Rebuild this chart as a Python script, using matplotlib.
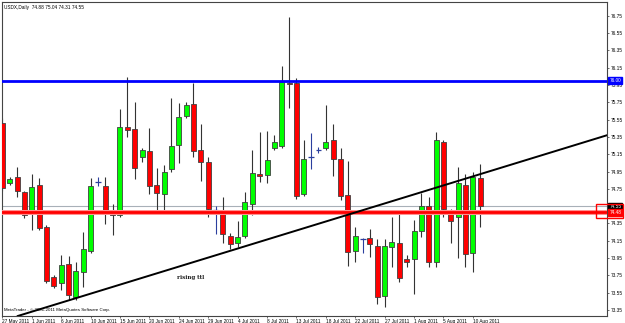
import matplotlib.pyplot as plt
from matplotlib.patches import Rectangle
from matplotlib.transforms import blended_transform_factory

plt.rcParams['font.family'] = ['Liberation Sans', 'DejaVu Sans']

# USDX daily candles, 27 May 2011 .. 11 Aug 2011 (Sunday bars included)
opens = [75.51, 74.82, 74.89, 74.71, 74.46, 74.79, 74.31, 73.73, 73.66, 73.88,
         73.50, 73.79, 74.03, 74.83, 74.78, 74.47, 74.45, 75.47, 75.44, 75.12,
         75.19, 74.79, 74.69, 74.98, 75.26, 75.59, 75.73, 75.20, 75.06, 74.50,
         74.48, 74.21, 74.12, 74.20, 74.58, 74.92, 74.91, 75.22, 75.24, 75.97,
         75.97, 74.69, 75.12, 75.20, 75.22, 75.31, 75.09, 74.68, 74.03, 74.17,
         74.18, 74.09, 73.51, 74.08, 74.12, 73.94, 73.94, 74.26, 74.55, 73.91,
         75.29, 74.47, 74.42, 74.80, 74.01, 74.88]
highs = [75.57, 74.89, 75.00, 74.73, 74.92, 74.87, 74.33, 73.75, 73.98, 73.97,
         73.91, 74.25, 74.87, 74.89, 74.89, 74.58, 75.67, 76.04, 75.75, 75.22,
         75.45, 74.99, 75.02, 75.80, 75.74, 75.75, 75.97, 75.50, 75.12, 74.55,
         74.65, 74.24, 74.38, 74.71, 75.20, 75.41, 75.42, 75.37, 76.17, 76.74,
         76.03, 75.31, 75.39, 75.23, 75.72, 75.50, 75.22, 75.07, 74.31, 74.18,
         74.28, 74.17, 74.17, 74.43, 74.49, 73.98, 74.39, 74.70, 74.65, 75.41,
         75.31, 74.52, 75.00, 74.92, 74.95, 75.04]
lows = [74.73, 74.79, 74.65, 74.41, 74.27, 74.27, 73.66, 73.60, 73.58, 73.46,
        73.46, 73.61, 74.01, 74.78, 74.34, 74.22, 74.42, 75.35, 74.86, 75.06,
        74.69, 74.48, 74.48, 74.94, 75.05, 75.57, 75.12, 74.84, 74.42, 74.23,
        74.12, 74.05, 74.08, 74.18, 74.45, 74.83, 74.82, 75.20, 75.22, 75.68,
        74.63, 74.67, 74.98, 75.16, 75.20, 74.90, 74.62, 73.86, 73.91, 74.01,
        73.96, 73.42, 73.38, 73.85, 73.67, 73.85, 73.54, 74.19, 73.85, 73.85,
        74.43, 74.12, 73.95, 73.85, 73.79, 74.31]
closes = [74.76, 74.86, 74.73, 74.45, 74.77, 74.30, 73.69, 73.63, 73.87, 73.52,
          73.80, 74.05, 74.78, 74.83, 74.47, 74.45, 75.46, 75.43, 74.99, 75.20,
          74.78, 74.70, 74.95, 75.24, 75.58, 75.72, 75.19, 75.06, 74.52, 74.50,
          74.23, 74.11, 74.19, 74.60, 74.93, 74.90, 75.08, 75.29, 75.98, 75.96,
          74.67, 75.10, 75.12, 75.20, 75.29, 75.10, 74.67, 74.02, 74.21, 74.17,
          74.11, 73.50, 74.09, 74.13, 73.72, 73.91, 74.26, 74.55, 73.90, 75.31,
          74.52, 74.38, 74.82, 74.00, 74.89, 74.55]

date_labels = ['27 May 2011', '1 Jun 2011', '6 Jun 2011', '10 Jun 2011', '15 Jun 2011',
               '20 Jun 2011', '24 Jun 2011', '29 Jun 2011', '4 Jul 2011', '8 Jul 2011',
               '13 Jul 2011', '18 Jul 2011', '22 Jul 2011', '27 Jul 2011', '1 Aug 2011',
               '5 Aug 2011', '10 Aug 2011']
price_ticks = [76.75, 76.55, 76.35, 76.15, 75.95, 75.75, 75.55, 75.35, 75.15, 74.95,
               74.75, 74.35, 74.15, 73.95, 73.75, 73.55, 73.35]

resistance = 76.00
support = 74.48
bid = 74.55
trend_a = (9, 73.46)
trend_b = (65, 74.92)

fig = plt.figure(figsize=(6.25, 3.23), dpi=100)
ax = fig.add_axes([2 / 625, 7 / 323, 605 / 625, 314 / 323])

for i, (o, h, l, c) in enumerate(zip(opens, highs, lows, closes)):
    if o == c:
        # doji -> drawn as a small blue cross
        ax.vlines(i, l, h, color='#2b3f9e', lw=0.8, zorder=3)
        ax.hlines(c, i - 0.4, i + 0.4, color='#2b3f9e', lw=0.9, zorder=3)
        continue
    ax.vlines(i, l, h, color='#333333', lw=0.8, zorder=2)
    col = '#00ff00' if c > o else '#ff0000'
    ax.bar(i, abs(c - o), bottom=min(o, c), width=0.68, color=col,
           edgecolor='#404040', linewidth=0.6, zorder=3)

ax.axhline(resistance, color='#0000ff', lw=2, zorder=4)
ax.axhline(support, color='#ff9090', lw=3.6, zorder=4)
ax.axhline(support, color='#ff0000', lw=2, zorder=4)
ax.axhline(bid, color='#a8b0b8', lw=0.8, zorder=1)
ax.axline(trend_a, trend_b, color='black', lw=1.4, zorder=5)

ax.set_xlim(-0.05, 82.25)
ax.set_ylim(73.28, 76.91)

ax.set_xticks(range(0, 4 * len(date_labels), 4))
ax.set_xticklabels(date_labels, ha='left')
ax.yaxis.tick_right()
ax.set_yticks(price_ticks)
ax.set_yticklabels([f'{p:.2f}' for p in price_ticks])
ax.tick_params(axis='both', labelsize=3.4, length=1.5, width=0.5, pad=1, color='#333333')
for s in ax.spines.values():
    s.set_color('#444444')
    s.set_linewidth(0.8)

ax.text(0.004, 0.99, 'USDX,Daily  74.88 75.04 74.31 74.55', transform=ax.transAxes,
        fontsize=3.4, va='top', ha='left')
ax.text(0.004, 0.012, 'MetaTrader - \u00a9 2001-2011 MetaQuotes Software Corp.',
        transform=ax.transAxes, fontsize=3.2, va='bottom', ha='left')
ax.text(23.8, 73.72, 'rising ttl', fontsize=4, fontfamily='serif', fontweight='bold',
        color='#222222', va='center')

tr = blended_transform_factory(ax.transAxes, ax.transData)
for val, fc in [(resistance, '#0000ff'), (bid, '#000000'), (support, '#ff0000')]:
    ax.text(1.004, val, f'{val:.2f}', transform=tr, fontsize=3.4, color='white',
            va='center', ha='left', zorder=10, clip_on=False,
            bbox=dict(boxstyle='square,pad=0.2', fc=fc, ec=fc))

fig.patches.append(Rectangle((596 / 625, 1 - 218 / 323), 27 / 625, 14 / 323,
                             transform=fig.transFigure, fill=False,
                             edgecolor='#ff0000', lw=1.0))

fig.savefig('out.png', dpi=100)
